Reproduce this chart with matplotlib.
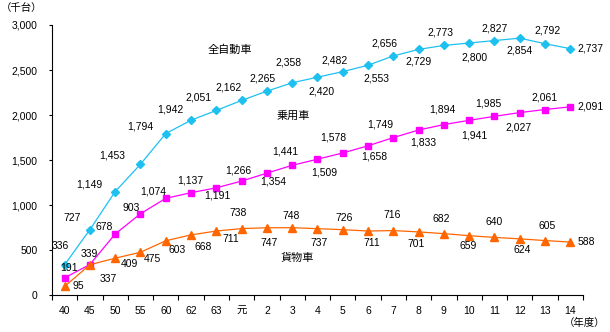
import numpy as np
import matplotlib
matplotlib.use('Agg')
import matplotlib.pyplot as plt

# 日本語フォント
plt.rcParams['font.family'] = ['Liberation Sans', 'Noto Sans CJK JP']

# データ (千台)
years = ['40', '45', '50', '55', '60', '62', '63', '元', '2', '3', '4', '5', '6',
         '7', '8', '9', '10', '11', '12', '13', '14']
total = [336, 727, 1149, 1453, 1794, 1942, 2051, 2162, 2265, 2358, 2420, 2482,
         2553, 2656, 2729, 2773, 2800, 2827, 2854, 2792, 2737]
passenger = [191, 339, 678, 903, 1074, 1137, 1191, 1266, 1354, 1441, 1509, 1578,
             1658, 1749, 1833, 1894, 1941, 1985, 2027, 2061, 2091]
cargo = [95, 337, 409, 475, 603, 668, 711, 738, 747, 748, 737, 726, 711, 716,
         701, 682, 659, 640, 624, 605, 588]

# ラベル位置 (ピクセル単位のずれ)
total_off = [(-4, 19), (-18, 12), (-26, 7), (-28, 9), (-25, 7), (-21, 11), (-18, 13),
             (-13, 13), (-4, 13), (-4, 20), (4, -14), (-8, 11), (8, -13), (-9, 12),
             (0, -12), (-3, 13), (5, -14), (0, 12), (0, -12), (3, 13), (20, 0)]
passenger_off = [(4, 10), (-1, 11), (-11, 7), (-9, 6), (-13, 7), (-1, 12), (1, -8),
                 (-3, 11), (6, -8), (-7, 14), (7, -13), (-9, 15), (6, -11), (-13, 13),
                 (5, -12), (-2, 15), (5, -15), (-6, 13), (-1, -15), (-1, 12), (20, 0)]
cargo_off = [(14, 0), (18, -14), (14, -6), (12, -7), (11, -9), (12, -12), (14, -8),
             (-3, 16), (2, -15), (-1, 12), (2, -14), (1, 12), (4, -12), (-1, 16),
             (-2, -12), (-3, 15), (-1, -10), (0, 15), (2, -11), (2, 15), (16, 0)]


def draw_series(ax, x, y, offs, color, marker, ms):
    '''折れ線と数値ラベル'''
    ax.plot(x, y, color=color, lw=0.9, marker=marker, ms=ms, mec=color, mfc=color)
    for xi, yi, (dx, dy) in zip(x, y, offs):
        ax.annotate('{:,}'.format(yi), (xi, yi), xytext=(dx, dy),
                    textcoords='offset pixels', ha='center', va='center',
                    fontsize=7.5, color='black')


fig = plt.figure(figsize=(6.1, 3.32), dpi=100)
ax = fig.add_axes([0.0852, 0.1114, 0.8705, 0.8133])

x = np.arange(len(years))
draw_series(ax, x, total, total_off, '#1EC0F0', 'D', 4.5)
draw_series(ax, x, passenger, passenger_off, '#FF00FF', 's', 4.8)
draw_series(ax, x, cargo, cargo_off, '#FF6600', '^', 5.5)

# 系列名
ax.text(6.53, 2722, '全自動車', fontsize=8, ha='center', va='center')
ax.text(9.05, 1989, '乗用車', fontsize=8, ha='center', va='center')
ax.text(9.22, 411, '貨物車', fontsize=8, ha='center', va='center')

# 軸
ax.set_xlim(-0.5, len(years) - 0.5)
ax.set_ylim(0, 3000)
ax.set_yticks(range(0, 3001, 500))
ax.set_yticklabels(['{:,}'.format(v) for v in range(0, 3001, 500)], fontsize=7.5)
ax.set_xticks(x)
ax.set_xticklabels(years, fontsize=7.5)
ax.set_xticks(np.arange(-0.5, len(years), 1), minor=True)
ax.tick_params(axis='x', which='major', length=0, pad=8)
ax.tick_params(axis='x', which='minor', length=3.5, width=0.8)
ax.tick_params(axis='y', length=2.5, width=0.8, pad=8)
ax.spines['top'].set_visible(False)
ax.spines['right'].set_visible(False)
ax.spines['left'].set_linewidth(0.8)
ax.spines['bottom'].set_linewidth(0.8)

fig.text(1 / 610, 1 - 8 / 332, '（千台）', fontsize=7.5, ha='left', va='center')
fig.text(605 / 610, 1 - 323 / 332, '（年度）', fontsize=7.5, ha='right', va='center')

plt.savefig('out.png', dpi=100)
